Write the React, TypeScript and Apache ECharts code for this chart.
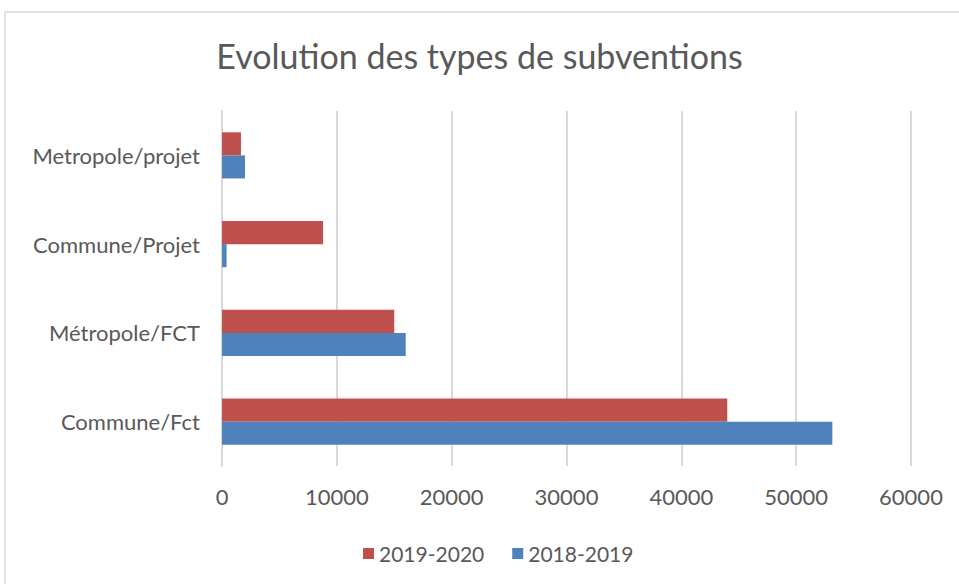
import React, { useEffect, useRef } from "react";
import * as echarts from "echarts";

const categories = ["Commune/Fct", "Métropole/FCT", "Commune/Projet", "Metropole/projet"];
const series2018 = [53150, 16000, 400, 2000];
const series2019 = [44000, 15000, 8800, 1650];
const xTicks = { min: 0, max: 60000, interval: 10000 };

const FONT = "Lato, 'Open Sans', sans-serif";

export default function App() {
  const ref = useRef<HTMLDivElement>(null);
  useEffect(() => {
    if (!ref.current) return;
    const chart = echarts.init(ref.current, undefined, { renderer: "svg" });
    chart.setOption({
      animation: false,
      backgroundColor: "#ffffff",
      textStyle: { fontFamily: FONT },
      title: {
        text: "Evolution des types de subventions",
        left: "center",
        top: 33,
        textStyle: { fontFamily: FONT, fontSize: 34, fontWeight: "normal", color: "#595959" },
      },
      graphic: [
        {
          type: "rect",
          shape: { x: 5, y: 12, width: 1000, height: 1000 },
          style: { fill: "none", stroke: "#d9d9d9", lineWidth: 1.5 },
          silent: true,
        },
      ],
      legend: {
        data: ["2019-2020", "2018-2019"],
        top: 538,
        left: 358,
        itemWidth: 11,
        itemHeight: 11,
        itemGap: 28,
        icon: "rect",
        textStyle: { fontFamily: FONT, fontSize: 21, color: "#595959" },
      },
      grid: { left: 222, right: 48, top: 111, bottom: 118, containLabel: false },
      xAxis: {
        type: "value",
        min: xTicks.min,
        max: xTicks.max,
        interval: xTicks.interval,
        axisLine: { show: false },
        axisTick: { show: false },
        axisLabel: {
          fontFamily: FONT,
          fontSize: 22,
          color: "#595959",
          margin: 19,
          formatter: (v: number) => String(v),
        },
        splitLine: { lineStyle: { color: "#d9d9d9", width: 2 } },
      },
      yAxis: {
        type: "category",
        data: categories,
        axisLine: { lineStyle: { color: "#d9d9d9", width: 2 } },
        axisTick: { show: false },
        axisLabel: { fontFamily: FONT, fontSize: 22, color: "#595959", margin: 22 },
      },
      series: [
        {
          name: "2019-2020",
          type: "bar",
          data: series2019,
          itemStyle: { color: "#c0504d" },
          barGap: "0%",
          barCategoryGap: "48%",
        },
        {
          name: "2018-2019",
          type: "bar",
          data: series2018,
          itemStyle: { color: "#4f81bd" },
          barGap: "0%",
          barCategoryGap: "48%",
        },
      ],
    });
    return () => chart.dispose();
  }, []);
  return (
    <div
      ref={ref}
      style={{ position: "absolute", left: 0, top: 0, width: 959, height: 584 }}
    />
  );
}
